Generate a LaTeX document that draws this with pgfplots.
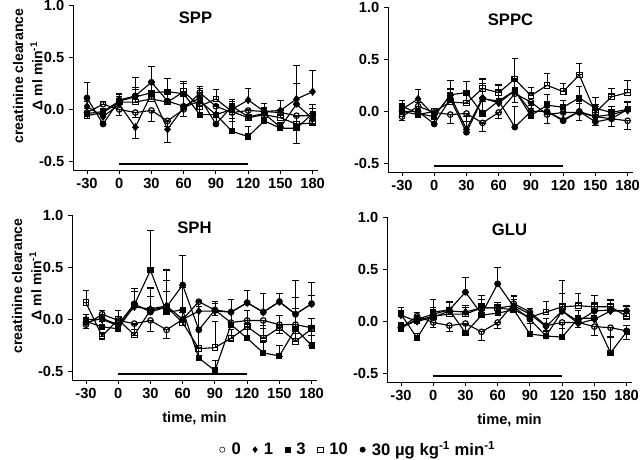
\documentclass[border=0pt]{standalone}
\usepackage{fontspec}
\setmainfont{Liberation Sans}
\usepackage{pgfplots}
\pgfplotsset{compat=1.18}
\usepackage{pgfplotstable}

% columns: t, then value and signed error (+ up, - down) for 0, 1, 3, 10, 30 ug/kg/min
\pgfplotstableread{
t   a     ae    b     be    c     ce    d     de    e     ee
-30 -0.03 -0.04  0.03 0.05 -0.04 0.05 -0.06 -0.03  0.11 0.15
-15  0.05  0.03 -0.07 0.03 -0.02 -0.03 -0.03 0.03 -0.14 0.03
0    0.00 -0.06  0.05 0.04  0.08 0.07  0.07 0.05  0.09 0.05
15  -0.03 -0.05 -0.17 -0.11 0.12 0.19  0.07 0.12  0.13 0.08
30  -0.01 -0.10  0.15 0.12  0.16 0.08  0.10 0.07  0.26 0.15
45  -0.11 -0.05 -0.19 -0.13 0.17 0.13  0.07 0.08  0.08 0.10
60   0.00 -0.07  0.02 0.10  0.15 0.12  0.17 0.08  0.03 0.10
75   0.16  0.06  0.08 0.10 -0.05 0.08  0.03 0.07  0.11 0.09
90   0.03 -0.06 -0.05 0.10 -0.05 0.09  0.10 0.09 -0.14 0.07
105 -0.03 -0.08  0.00 0.08 -0.21 0.12 -0.02 0.08  0.03 0.07
120 -0.01 -0.07  0.09 0.11 -0.26 0.10 -0.08 0.08 -0.07 0.07
135 -0.02 -0.06 -0.02 0.08 -0.11 0.10 -0.05 0.07 -0.04 0.05
150 -0.03 -0.05 -0.01 0.10 -0.18 0.05 -0.08 0.08 -0.17 0.05
165 -0.06 -0.27  0.10 0.32 -0.18 0.12 -0.14 0.07  0.05 0.20
180 -0.06 -0.08  0.17 0.20 -0.04 0.09 -0.13 0.06 -0.09 0.10
}\SPP

\pgfplotstableread{
t   a     ae    b     be    c     ce    d     de    e     ee
-30 -0.05 -0.04  0.02 0.06  0.05 0.06  0.00 0.05  0.00 0.05
-15  0.05  0.04  0.12 0.09 -0.02 0.04 -0.03 0.04  0.00 0.05
0   -0.01 -0.04 -0.04 0.04 -0.05 0.05  0.00 0.03 -0.12 0.04
15  -0.03 -0.08  0.15 0.15  0.16 0.14  0.09 0.12  0.12 0.10
30  -0.02 -0.08 -0.17 0.12  0.18 0.11  0.08 0.08 -0.20 0.10
45  -0.11 -0.08  0.13 0.18 -0.02 0.12  0.22 0.10  0.12 0.15
60  -0.01 -0.06  0.08 0.12  0.10 0.15  0.18 0.08  0.10 0.10
75   0.17 -0.08  0.20 0.12  0.20 0.10  0.31 0.20 -0.15 0.20
90   0.09 -0.06  0.00 0.10 -0.04 0.10  0.15 0.08  0.00 0.08
105 -0.03 -0.08  0.00 0.10  0.06 0.10  0.25 0.11  0.00 0.10
120 -0.01 -0.06 -0.08 0.08  0.04 0.07  0.19 0.08 -0.09 0.07
135 -0.01 -0.08  0.00 0.10  0.13 0.11  0.35 0.11  0.00 0.08
150 -0.05 -0.08 -0.05 0.10  0.03 0.10 -0.01 0.08 -0.10 0.06
165 -0.07 -0.07 -0.03 0.08 -0.01 0.06  0.14 0.08 -0.07 0.06
180 -0.09 -0.08  0.01 0.08  0.02 0.08  0.18 0.12  0.02 0.08
}\SPPC

\pgfplotstableread{
t   a     ae    b     be    c     ce    d     de    e     ee
-30 -0.05 -0.04  0.00 0.05 -0.02 0.04  0.16 0.12 -0.03 0.04
-15  0.05  0.04  0.00 0.05 -0.07 0.05 -0.16 0.04  0.01 0.04
0   -0.01 -0.05 -0.06 0.05 -0.09 0.09  0.00 0.09 -0.05 0.04
15  -0.04 -0.06  0.12 0.15  0.14 0.16 -0.15 0.10  0.15 0.12
30  -0.01 -0.10  0.10 0.20  0.47 0.38  0.09 0.22  0.07 0.15
45  -0.10 -0.08  0.13 0.35  0.07 0.20  0.12 0.35  0.12 0.25
60   0.00 -0.06  0.00 0.10  0.09 0.22 -0.03 0.10  0.33 0.28
75   0.17 -0.05  0.08 0.10 -0.37 0.10 -0.28 0.20 -0.10 0.18
90   0.09 -0.05  0.08 0.07 -0.49 0.10 -0.27 0.25  0.09 0.08
105 -0.03 -0.05  0.07 0.12 -0.05 0.12 -0.18 0.08  0.07 0.12
120 -0.01 -0.06  0.16 0.12 -0.18 0.14 -0.07 0.16  0.16 0.12
135 -0.01 -0.08  0.07 0.18 -0.32 0.10 -0.18 0.12  0.07 0.18
150 -0.05 -0.08  0.17 0.08 -0.35 0.10 -0.08 0.12  0.17 0.08
165 -0.05 -0.08  0.05 0.16 -0.09 0.20 -0.21 0.08  0.05 0.32
180 -0.08 -0.07  0.15 0.08 -0.25 0.10 -0.09 0.10  0.15 0.20
}\SPH

\pgfplotstableread{
t   a     ae    b     be    c     ce    d     de    e     ee
-30 -0.06 -0.04  0.06 0.05  0.07 0.06 -0.06 0.05 -0.06 0.04
-15  0.05  0.04  0.00 0.05 -0.16 0.05  0.01 0.04  0.02 0.04
0   -0.01 -0.05  0.04 0.06  0.09 0.12  0.05 0.05  0.07 0.06
15  -0.04 -0.06  0.10 0.08  0.11 0.08  0.07 0.06  0.11 0.08
30  -0.02 -0.08  0.09 0.06 -0.11 0.08  0.07 0.06  0.28 0.14
45  -0.10 -0.08  0.13 0.08  0.06 0.08  0.13 0.12  0.07 0.10
60  -0.01 -0.06  0.13 0.05  0.08 0.10  0.13 0.05  0.36 0.16
75   0.17 -0.05  0.15 0.10  0.11 0.06  0.11 0.10  0.14 0.10
90   0.09 -0.05  0.07 0.05 -0.12 0.10  0.04 0.06  0.02 0.06
105 -0.04 -0.06 -0.05 0.08 -0.14 0.04  0.09 0.10 -0.14 0.05
120 -0.01 -0.06  0.10 0.17 -0.15 0.12  0.14 0.25  0.10 0.17
135 -0.01 -0.05 -0.02 0.06  0.03 0.08  0.15 0.12  0.00 0.06
150 -0.05 -0.08  0.02 0.08  0.03 0.08  0.14 0.11  0.10 0.08
165 -0.06 -0.08  0.10 0.06 -0.30 0.15  0.14 0.06  0.11 0.10
180 -0.09 -0.08  0.10 0.05 -0.10 0.06  0.05 0.09  0.10 0.05
}\GLU

\pgfplotsset{
  panel/.style={
    scale only axis, width=183.75pt, height=123.75pt,
    xmin=-43, xmax=185, ymin=-0.58, ymax=1.0,
    axis x line*=bottom, axis y line*=left,
    axis line style={-, line width=0.7pt},
    xtick={-30,0,30,60,90,120,150,180}, ytick={-0.5,0,0.5,1},
    tick align=outside, major tick length=3pt,
    tick style={black, line width=0.7pt},
    yticklabel style={/pgf/number format/.cd, fixed, fixed zerofill, precision=1},
    /pgf/number format/assume math mode=true,
    ticklabel style={font=\fontsize{11}{13}\selectfont\bfseries},
    xlabel style={font=\fontsize{11}{13}\selectfont\bfseries,
      at={(axis description cs:0.5,-0.23)}, anchor=center},
    clip=false,
  },
  ser/.style={black, line width=0.85pt, mark size=2.1pt, forget plot,
    error bars/y dir=both, error bars/y explicit,
    error bars/error bar style={line width=0.5pt, solid},
    error bars/error mark options={rotate=90, mark size=2.4pt, line width=0.6pt}},
}

\newcommand{\series}[3]{%
  \addplot[ser, #3] table[x=t, y=#2,
    y error plus expr={max(\thisrow{#2e},0)},
    y error minus expr={max(-1*\thisrow{#2e},0)}] {#1};}

\newcommand{\panel}[2]{%
  \addplot[black, line width=1.6pt, no marks, forget plot] coordinates {(0,-0.52) (120,-0.52)};
  \series{#1}{a}{mark=o, mark options={fill=white, solid}}
  \series{#1}{b}{mark=diamond*, mark size=2.5pt, mark options={solid}}
  \series{#1}{c}{mark=square*, mark size=1.9pt, mark options={solid}}
  \series{#1}{d}{mark=square, mark size=2.1pt, mark options={fill=white, solid}}
  \series{#1}{e}{mark=*, mark options={solid}}
  \node[font=\fontsize{12.5}{14}\selectfont\bfseries] at (rel axis cs:0.5,0.92) {#2};
}

\newcommand{\ylab}{\node[rotate=90, align=center, font=\fontsize{10.5}{14.5}\selectfont\bfseries]
  at (rel axis cs:-0.185,0.57) {creatinine clearance\\ Δ ml min\textsuperscript{-1}};}

\begin{document}
\begin{tikzpicture}
\path[use as bounding box] (0,0) rectangle (480pt,345pt);

\begin{axis}[panel, at={(54.75pt,217.5pt)}, anchor=south west]
\panel{\SPP}{SPP}
\ylab
\end{axis}

\begin{axis}[panel, at={(291pt,216pt)}, anchor=south west]
\panel{\SPPC}{SPPC}
\end{axis}

\begin{axis}[panel, at={(54pt,60pt)}, anchor=south west, xlabel={time, min}]
\panel{\SPH}{SPH}
\ylab
\end{axis}

\begin{axis}[panel, at={(290.25pt,58.5pt)}, anchor=south west, xlabel={time, min},
  legend columns=5,
  legend style={at={(-0.115,-0.41)}, anchor=center, draw=none, fill=none,
    font=\fontsize{12.5}{14}\selectfont\bfseries,
    /tikz/every even column/.append style={column sep=7pt},
    /tikz/every odd column/.append style={column sep=3pt}},
  legend image code/.code={\draw[#1] plot coordinates {(0.2cm,0cm)};}]
\panel{\GLU}{GLU}
\addlegendimage{only marks, black, mark=o, mark size=2pt, mark options={fill=white}}
\addlegendentry{0}
\addlegendimage{only marks, black, mark=diamond*, mark size=2.2pt}
\addlegendentry{1}
\addlegendimage{only marks, black, mark=square*, mark size=1.7pt}
\addlegendentry{3}
\addlegendimage{only marks, black, mark=square, mark size=1.9pt}
\addlegendentry{10}
\addlegendimage{only marks, black, mark=*, mark size=2pt}
\addlegendentry{30 µg kg\textsuperscript{-1} min\textsuperscript{-1}}
\end{axis}
\end{tikzpicture}
\end{document}
